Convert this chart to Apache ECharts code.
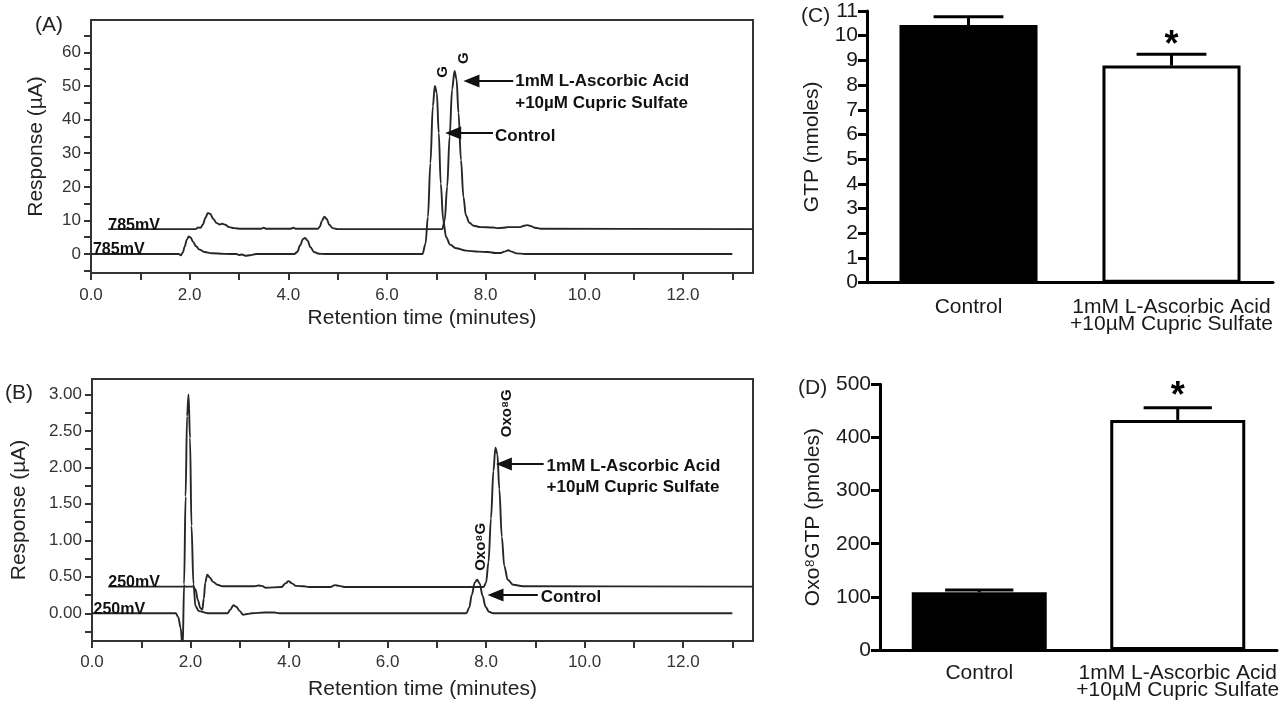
<!DOCTYPE html>
<html><head><meta charset="utf-8">
<script src="https://cdn.jsdelivr.net/npm/echarts@6/dist/echarts.min.js"></script>
<style>html,body{margin:0;padding:0;background:#fff}#c{width:1286px;height:704px}</style>
</head><body><div id="c"></div><script>
// ---------- data ----------
const timeTicks = [0,1,2,3,4,5,6,7,8,9,10,11,12,13];
const timeLabels = [0,2,4,6,8,10,12];
const aTicks = [-5,0,5,10,15,20,25,30,35,40,45,50,55,60,65];
const aLabels = [0,10,20,30,40,50,60];
const bTicks = [-0.25,0,0.25,0.5,0.75,1,1.25,1.5,1.75,2,2.25,2.5,2.75,3];
const bLabels = [0,0.5,1,1.5,2,2.5,3];

// Panel A (G, 785 mV) [time (min), response (uA)]
const aControl = [[0,0],[1.78,0],[1.82,-0.4],[1.86,0.4],[1.9,2.2],[1.94,4.2],[1.98,5.2],[2.02,4.9],[2.07,3.6],[2.13,2.3],[2.2,1.3],[2.3,0.6],[2.45,0.25],[2.7,0.05],[2.95,0],[3.0,-0.3],[3.06,-0.15],[3.13,-0.5],[3.22,-0.35],[3.35,0],[4.12,0],[4.18,0.6],[4.24,2.6],[4.3,4.5],[4.34,4.8],[4.39,4.0],[4.45,2.0],[4.52,0.6],[4.62,0.1],[4.75,0],[6.72,0],[6.78,3],[6.83,11],[6.88,27],[6.93,44],[6.97,50],[7.01,48],[7.05,36],[7.09,21],[7.14,10],[7.2,5],[7.28,2.8],[7.4,1.7],[7.6,1.0],[7.85,0.7],[8.05,0.6],[8.2,0.3],[8.3,0.3],[8.38,0.7],[8.46,1.1],[8.53,0.7],[8.62,0.2],[8.8,0],[13.0,0]];
const aAscorbic = [[0.35,7.4],[2.12,7.4],[2.17,7.9],[2.22,7.8],[2.27,8.8],[2.32,10.8],[2.37,12.2],[2.42,11.9],[2.48,10.4],[2.55,9.2],[2.61,8.8],[2.66,9.0],[2.72,8.7],[2.8,8.0],[2.9,7.7],[3.05,7.5],[3.45,7.5],[3.5,7.8],[3.56,7.5],[4.04,7.5],[4.1,7.8],[4.16,7.5],[4.6,7.5],[4.64,8.2],[4.68,9.8],[4.73,11.1],[4.78,10.4],[4.83,8.7],[4.9,7.7],[5.0,7.4],[7.12,7.4],[7.17,10],[7.22,20],[7.27,35],[7.32,49],[7.37,54.5],[7.41,52],[7.45,42],[7.5,28],[7.55,17],[7.6,11.5],[7.67,9.3],[7.76,8.4],[7.9,8.0],[8.15,7.9],[8.25,7.7],[8.35,7.8],[8.45,8.0],[8.7,8.0],[8.78,8.4],[8.85,8.6],[8.92,8.3],[9.0,7.8],[9.15,7.5],[13.42,7.4]];

// Panel B (Oxo8G, 250 mV)
const bControl = [[0,0],[1.7,0],[1.75,-0.05],[1.8,-0.2],[1.84,-0.5],[1.87,0.4],[1.9,1.6],[1.93,2.7],[1.96,3.0],[1.99,2.4],[2.02,1.2],[2.06,0.4],[2.1,0.1],[2.17,0.03],[2.35,0],[2.75,0],[2.81,0.05],[2.87,0.11],[2.93,0.09],[3.0,0.03],[3.07,-0.02],[3.15,-0.01],[3.25,0],[3.5,0.01],[3.7,0.01],[3.8,0],[7.6,0],[7.66,0.08],[7.71,0.25],[7.77,0.42],[7.82,0.46],[7.87,0.41],[7.93,0.24],[7.99,0.09],[8.06,0.02],[8.15,0],[13.0,0]];
const bAscorbic = [[0.33,0.365],[2.05,0.365],[2.1,0.33],[2.15,0.18],[2.2,0.07],[2.24,0.05],[2.27,0.2],[2.3,0.42],[2.34,0.53],[2.39,0.49],[2.46,0.43],[2.55,0.39],[2.65,0.37],[3.3,0.37],[3.38,0.38],[3.45,0.375],[3.52,0.35],[3.85,0.36],[3.93,0.41],[3.99,0.44],[4.06,0.41],[4.14,0.375],[4.3,0.37],[4.4,0.36],[4.85,0.36],[4.93,0.385],[5.02,0.375],[5.12,0.36],[7.95,0.36],[8.0,0.42],[8.05,0.7],[8.1,1.3],[8.15,1.95],[8.19,2.27],[8.23,2.18],[8.27,1.7],[8.32,1.05],[8.37,0.65],[8.44,0.46],[8.55,0.39],[8.75,0.37],[13.42,0.365]];

// Panels C and D (bar charts)
const barCategories = ['Control', '1mM L-Ascorbic Acid\n+10\u00b5M Cupric Sulfate'];
const barFills = ['#000000', '#ffffff'];
const gtpMean = [10.43, 8.79];
const gtpSem = [0.34, 0.46];
const oxoMean = [108.6, 433];
const oxoSem = [4.5, 23];
const significance = ['', '*'];

// ---------- chart ----------
const FONT = '"Liberation Sans", Arial, sans-serif';
const INK = '#1a1a1a';
const chart = echarts.init(document.getElementById('c'), null, {renderer: 'canvas'});

function chromX(gridIdx, labelMargin, gap) {
  return {
    gridIndex: gridIdx, type: 'value', min: 0, max: 13.42,
    axisLine: {show: true, onZero: false, lineStyle: {color: '#333', width: 2}},
    axisTick: {show: true, length: 7, customValues: timeTicks, lineStyle: {color: '#333', width: 2}},
    axisLabel: {customValues: timeLabels, formatter: v => Number(v).toFixed(1), fontSize: 17, color: '#333', margin: labelMargin, fontFamily: FONT},
    splitLine: {show: false},
    name: 'Retention time (minutes)', nameLocation: 'middle', nameGap: gap,
    nameTextStyle: {fontSize: 21, color: '#222', fontFamily: FONT}
  };
}
function chromY(gridIdx, mn, mx, ticks, labels, fmt, gap) {
  return {
    gridIndex: gridIdx, type: 'value', min: mn, max: mx,
    axisLine: {show: true, onZero: false, lineStyle: {color: '#333', width: 2}},
    axisTick: {show: true, length: 7, customValues: ticks, lineStyle: {color: '#333', width: 2}},
    axisLabel: {customValues: labels, formatter: fmt, fontSize: 17, color: '#333', margin: 10, fontFamily: FONT},
    splitLine: {show: false},
    name: 'Response (\u00b5A)', nameLocation: 'middle', nameGap: gap, nameRotate: 90,
    nameTextStyle: {fontSize: 21, color: '#222', fontFamily: FONT}
  };
}
function barX(gridIdx, margin) {
  return {
    gridIndex: gridIdx, type: 'category', data: barCategories,
    axisLine: {show: true, lineStyle: {color: '#000', width: 3}},
    axisTick: {show: false},
    axisLabel: {fontSize: 21, color: INK, margin: margin, lineHeight: 17, fontFamily: FONT, interval: 0},
    splitLine: {show: false}
  };
}
function barY(gridIdx, mx, itv, name, gap) {
  return {
    gridIndex: gridIdx, type: 'value', min: 0, max: mx, interval: itv,
    axisLine: {show: true, lineStyle: {color: '#000', width: 3}},
    axisTick: {show: true, length: 9, lineStyle: {color: '#000', width: 3}},
    axisLabel: {fontSize: 21, color: INK, margin: 9, fontFamily: FONT},
    splitLine: {show: false},
    name: name, nameLocation: 'middle', nameGap: gap, nameRotate: 90,
    nameTextStyle: {fontSize: 21, color: INK, fontFamily: FONT}
  };
}
function trace(xi, data) {
  return {type: 'line', xAxisIndex: xi, yAxisIndex: xi, data: data, showSymbol: false, symbol: 'none',
    smooth: 0.35, smoothMonotone: 'x', clip: true,
    lineStyle: {color: '#262626', width: 1.9}, z: 5};
}
function barSeries(xi, means) {
  return {type: 'bar', xAxisIndex: xi, yAxisIndex: xi, barWidth: '68%',
    data: means.map((v, i) => ({value: v, itemStyle: {color: barFills[i]}})),
    itemStyle: {borderColor: '#000', borderWidth: 3}, z: 3};
}
function errSeries(xi, means, sems, starOffset) {
  return {type: 'custom', xAxisIndex: xi, yAxisIndex: xi, z: 10,
    data: means.map((m, i) => [i, m, sems[i]]),
    renderItem: function (params, api) {
      const i = api.value(0), m = api.value(1), s = api.value(2);
      const base = api.coord([i, m]);
      const top = api.coord([i, m + s]);
      const half = api.size([1, 0])[0] * 0.172;
      const children = [
        {type: 'line', shape: {x1: base[0], y1: base[1], x2: top[0], y2: top[1]}, style: {stroke: '#000', lineWidth: 3}},
        {type: 'line', shape: {x1: top[0] - half, y1: top[1], x2: top[0] + half, y2: top[1]}, style: {stroke: '#000', lineWidth: 3}}
      ];
      if (significance[i]) {
        children.push({type: 'text', x: top[0], y: top[1] - starOffset,
          style: {text: significance[i], font: 'bold 36px ' + FONT, fill: '#000', align: 'center', verticalAlign: 'middle', textAlign: 'center', textVerticalAlign: 'middle'}});
      }
      return {type: 'group', children: children};
    }};
}

const option = {
  animation: false,
  backgroundColor: '#fff',
  textStyle: {fontFamily: FONT},
  grid: [
    {left: 91, top: 20, width: 662, height: 253, show: true, borderColor: '#333', borderWidth: 2, containLabel: false},
    {left: 92, top: 379, width: 661, height: 262, show: true, borderColor: '#333', borderWidth: 2, containLabel: false},
    {left: 867, top: 11, width: 406, height: 271.7, containLabel: false},
    {left: 880, top: 384.3, width: 397, height: 265.7, containLabel: false}
  ],
  xAxis: [chromX(0, 14, 35), chromX(1, 13, 38), barX(2, 16), barX(3, 15)],
  yAxis: [
    chromY(0, -5.65, 69.65, aTicks, aLabels, v => String(v), 44),
    chromY(1, -0.38, 3.21, bTicks, bLabels, v => Number(v).toFixed(2), 62),
    barY(2, 11, 1, 'GTP (nmoles)', 44),
    barY(3, 500, 100, 'Oxo\u2078GTP (pmoles)', 56)
  ],
  series: [
    trace(0, aControl), trace(0, aAscorbic),
    trace(1, bControl), trace(1, bAscorbic),
    barSeries(2, gtpMean), errSeries(2, gtpMean, gtpSem, 8),
    barSeries(3, oxoMean), errSeries(3, oxoMean, oxoSem, 11)
  ]
};
chart.setOption(option);

// ---------- annotations (data-space anchors converted through the axes) ----------
function px(g, pt) { return chart.convertToPixel({gridIndex: g}, pt); }
function txt(g, pt, s, opt) {
  const p = px(g, pt);
  opt = opt || {};
  return {type: 'text', x: p[0] + (opt.dx || 0), y: p[1] + (opt.dy || 0), rotation: opt.rot || 0, z: 60,
    style: {text: s, font: (opt.font || 'bold 17px ' + FONT), fill: opt.fill || '#111',
      align: opt.align || 'left', verticalAlign: opt.va || 'middle',
      textAlign: opt.align || 'left', textVerticalAlign: opt.va || 'middle'}};
}
function arrow(g, tip, endT) {
  const p = px(g, tip), e = px(g, [endT, tip[1]]);
  return [
    {type: 'polygon', z: 60, shape: {points: [[p[0], p[1]], [p[0] + 16, p[1] - 6.5], [p[0] + 16, p[1] + 6.5]]}, style: {fill: '#111'}},
    {type: 'line', z: 60, shape: {x1: p[0] + 12, y1: p[1], x2: e[0], y2: p[1]}, style: {stroke: '#111', lineWidth: 2}}
  ];
}
const g = [];
// Panel A
g.push(txt(0, [0.35, 7.4], '785mV', {va: 'bottom', dy: 4, font: 'bold 16px ' + FONT}));
g.push(txt(0, [0.04, 0], '785mV', {va: 'bottom', dy: 4, font: 'bold 16px ' + FONT}));
g.push(txt(0, [7.14, 54.2], 'G', {align: 'center', rot: Math.PI / 2, font: 'bold 15px ' + FONT}));
g.push(txt(0, [7.55, 58.3], 'G', {align: 'center', rot: Math.PI / 2, font: 'bold 15px ' + FONT}));
g.push(...arrow(0, [7.55, 51.5], 8.56));
g.push(txt(0, [8.6, 51.5], '1mM L-Ascorbic Acid'));
g.push(txt(0, [8.6, 44.9], '+10\u00b5M Cupric Sulfate'));
g.push(...arrow(0, [7.18, 36], 8.15));
g.push(txt(0, [8.19, 35.1], 'Control'));
// Panel B
g.push(txt(1, [0.33, 0.365], '250mV', {va: 'bottom', dy: 4, font: 'bold 16px ' + FONT}));
g.push(txt(1, [0.03, 0], '250mV', {va: 'bottom', dy: 4, font: 'bold 16px ' + FONT}));
g.push(txt(1, [7.89, 0.91], 'Oxo\u2078G', {align: 'center', rot: Math.PI / 2, font: 'bold 15px ' + FONT}));
g.push(txt(1, [8.42, 2.74], 'Oxo\u2078G', {align: 'center', rot: Math.PI / 2, font: 'bold 15px ' + FONT}));
g.push(...arrow(1, [8.2, 2.045], 9.17));
g.push(txt(1, [9.23, 2.01], '1mM L-Ascorbic Acid'));
g.push(txt(1, [9.23, 1.73], '+10\u00b5M Cupric Sulfate'));
g.push(...arrow(1, [8.03, 0.25], 9.05));
g.push(txt(1, [9.11, 0.22], 'Control'));
// Panel letters
const panelFont = '21px ' + FONT;
[['(A)', 35, 25], ['(B)', 5, 393], ['(C)', 801, 16], ['(D)', 798, 388]].forEach(([s, x, y]) => {
  g.push({type: 'text', x: x, y: y, z: 60, style: {text: s, font: panelFont, fill: '#222', align: 'left', verticalAlign: 'middle', textAlign: 'left', textVerticalAlign: 'middle'}});
});
chart.setOption({graphic: g});
</script></body></html>
